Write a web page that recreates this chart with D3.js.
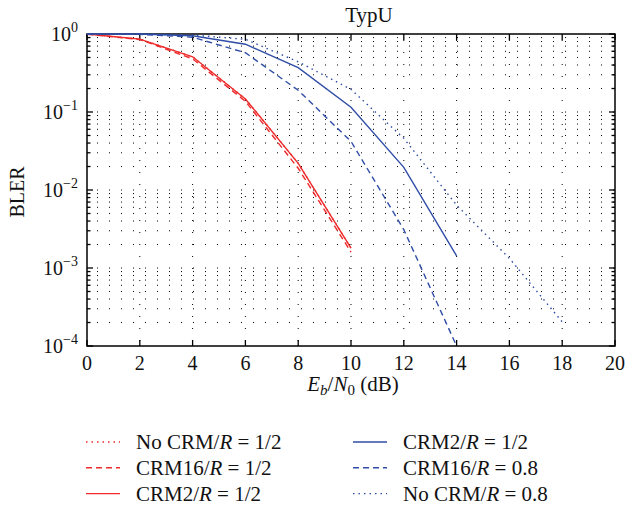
<!DOCTYPE html>
<html><head><meta charset="utf-8">
<script src="https://cdn.jsdelivr.net/npm/d3@7"></script>
<style>body{margin:0;background:#fff}svg{display:block}text{font-family:"Liberation Serif","Times New Roman",serif;fill:#111}</style>
</head><body>
<svg id="c" width="625" height="508"></svg>
<script>
const ebn0 = [0,2,4,6,8,10,12,14,16,18];
const noCrmHalf   = [1.0,0.86,0.51,0.147,0.022,0.0018];
const crm16Half   = [0.99,0.85,0.48,0.137,0.019,0.0016];
const crm2Half    = [1.0,0.86,0.51,0.147,0.022,0.0018];
const crm2HalfB   = [1.0,1.0,0.95,0.74,0.37,0.115,0.0195,0.00143];
const crm16R08    = [1.0,0.99,0.91,0.575,0.19,0.042,0.0031,0.0001];
const noCrmR08    = [1.0,1.0,0.97,0.855,0.44,0.195,0.046,0.0064,0.00133,0.000204];
const xTicks = [0,2,4,6,8,10,12,14,16,18,20];
const yDecades = [-4,-3,-2,-1,0];
const title = "TypU";

const RED = "#ee2a2a", BLUE = "#2f4da6";
const series = [
  {name:"No CRM", r:"1/2", vals:noCrmHalf, color:RED, dash:"1.5,4"},
  {name:"CRM16", r:"1/2", vals:crm16Half, color:RED, dash:"6,4"},
  {name:"CRM2", r:"1/2", vals:crm2Half, color:RED, dash:null},
  {name:"CRM2", r:"1/2", vals:crm2HalfB, color:BLUE, dash:null},
  {name:"CRM16", r:"0.8", vals:crm16R08, color:BLUE, dash:"6,4"},
  {name:"No CRM", r:"0.8", vals:noCrmR08, color:BLUE, dash:"1.5,4"}
];

const svg = d3.select("#c");
const L=87, T=34, W=528, H=312;
const x = d3.scaleLinear().domain([0,20]).range([L,L+W]);
const y = d3.scaleLog().domain([1e-4,1]).range([T+H,T]);

// grid
const minorVals = [];
for (let k=-4;k<0;k++) for (let m=1;m<=9;m++) minorVals.push(m*Math.pow(10,k));
const g = svg.append("g");
g.selectAll("line.h").data(minorVals.filter(v=>v>1e-4)).join("line")
  .attr("x1",L).attr("x2",L+W).attr("y1",d=>y(d)).attr("y2",d=>y(d))
  .attr("stroke","#000").attr("stroke-width",1).attr("stroke-dasharray","1,11").attr("stroke-dashoffset",-10);
g.selectAll("line.v").data(xTicks.slice(1,-1)).join("line")
  .attr("x1",d=>x(d)).attr("x2",d=>x(d)).attr("y1",T).attr("y2",T+H)
  .attr("stroke","#000").attr("stroke-width",1).attr("stroke-dasharray","1,11").attr("stroke-dashoffset",-6);

// axes (ticks inward)
const yTickVals = minorVals.concat([1]);
const isMajor = v => Math.abs(Math.log10(v)-Math.round(Math.log10(v)))<1e-9;
const axes = svg.append("g");
function yTicks(x0, dir){
  axes.selectAll(null).data(yTickVals).join("line")
    .attr("x1",x0).attr("x2",d=>x0+dir*(isMajor(d)?6:3.5))
    .attr("y1",d=>y(d)).attr("y2",d=>y(d)).attr("stroke","#000").attr("stroke-width",1.3);
}
yTicks(L,1); yTicks(L+W,-1);
function xTk(y0,dir){
  axes.selectAll(null).data(xTicks).join("line")
    .attr("x1",d=>x(d)).attr("x2",d=>x(d)).attr("y1",y0).attr("y2",y0+dir*6)
    .attr("stroke","#000").attr("stroke-width",1.3);
}
xTk(T+H,-1); xTk(T,1);
axes.append("rect").attr("x",L).attr("y",T).attr("width",W).attr("height",H)
  .attr("fill","none").attr("stroke","#000").attr("stroke-width",1.5);

// tick labels
axes.selectAll(null).data(xTicks).join("text")
  .attr("x",d=>x(d)).attr("y",T+H+24).attr("text-anchor","middle")
  .attr("font-size",20).text(d=>d);
const yl = axes.selectAll(null).data(yDecades).join("text")
  .attr("x",L-9).attr("y",d=>y(Math.pow(10,d))+7).attr("text-anchor","end").attr("font-size",20);
yl.append("tspan").text("10");
yl.append("tspan").attr("dy",-9).attr("font-size",14).text(d=>d===0?"0":"\u2212"+(-d));

// lines
const line = d3.line().x((d,i)=>x(ebn0[i])).y(d=>y(d));
svg.append("g").selectAll("path").data(series).join("path")
  .attr("d",d=>line(d.vals)).attr("fill","none").attr("stroke",d=>d.color)
  .attr("stroke-width",1.4).attr("stroke-dasharray",d=>d.dash);

// title + axis labels
svg.append("text").attr("x",369).attr("y",22).attr("text-anchor","middle").attr("font-size",21).text(title);
svg.append("text").attr("transform",`translate(24,${T+H/2+2})rotate(-90)`).attr("text-anchor","middle").attr("font-size",20).text("BLER");
const xl = svg.append("text").attr("x",x(10)+2).attr("y",391).attr("text-anchor","middle").attr("font-size",21);
xl.append("tspan").attr("font-style","italic").text("E");
xl.append("tspan").attr("font-style","italic").attr("font-size",15).attr("dy",4).text("b");
xl.append("tspan").attr("dy",-4).text("/");
xl.append("tspan").attr("font-style","italic").text("N");
xl.append("tspan").attr("font-size",15).attr("dy",4).text("0");
xl.append("tspan").attr("dy",-4).text(" (dB)");

// legend
const leg = svg.append("g");
series.forEach((s,i)=>{
  const col = Math.floor(i/3), row = i%3;
  const lx = col===0 ? 86 : 353, ty = 442 + row*25.8;
  leg.append("line").attr("x1",lx).attr("x2",lx+34).attr("y1",ty).attr("y2",ty)
    .attr("stroke",s.color).attr("stroke-width",1.4).attr("stroke-dasharray",s.dash);
  const t = leg.append("text").attr("x",lx+50).attr("y",ty+7).attr("font-size",21);
  t.append("tspan").text(s.name+"/");
  t.append("tspan").attr("font-style","italic").text("R");
  t.append("tspan").text(" = "+s.r);
});
</script>
</body></html>
